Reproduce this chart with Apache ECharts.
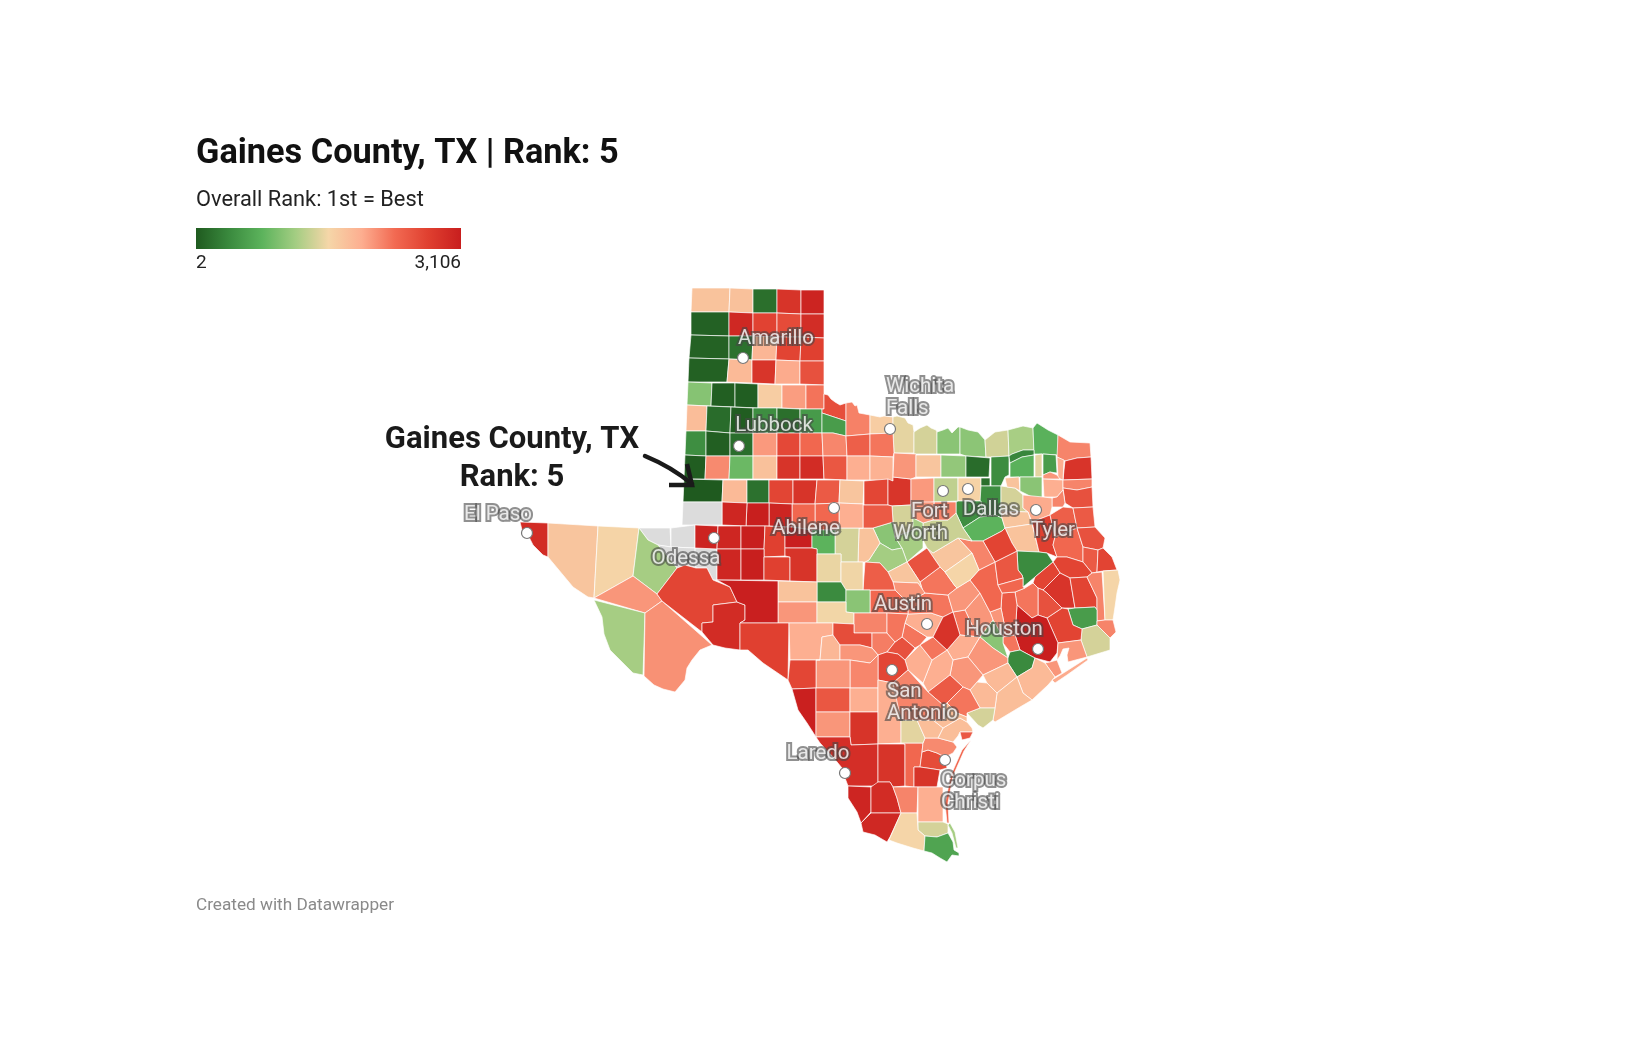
<!DOCTYPE html>
<html>
<head>
<meta charset="utf-8">
<style>html,body{margin:0;padding:0;background:#fff}#map{width:1640px;height:1054px}</style>
<script src="https://cdn.jsdelivr.net/npm/echarts@6/dist/echarts.min.js"></script>
</head>
<body>
<div id="map"></div>
<script>
// rank per county, 1st = best. read off the fill colours, so these are estimates
var countyNames = [
  'Dallam','Sherman','Hansford','Ochiltree','Lipscomb','Hartley','Moore','Hutchinson','Roberts','Hemphill',
  'Oldham','Potter','Carson','Gray','Wheeler','Deaf Smith','Randall','Armstrong','Donley','Collingsworth',
  'Parmer','Castro','Swisher','Briscoe','Hall','Childress','Bailey','Lamb','Hale','Floyd',
  'Motley','Cottle','Hardeman','Foard','Wilbarger','Wichita','Clay','Montague','Cooke','Grayson',
  'Fannin','Lamar','Red River','Bowie','Cass','Cochran','Hockley','Lubbock','Crosby','Dickens',
  'King','Knox','Baylor','Archer','Yoakum','Terry','Lynn','Garza','Kent','Stonewall',
  'Haskell','Throckmorton','Young','Gaines','Dawson','Borden','Scurry','Fisher','Jones','Shackelford',
  'Stephens','Palo Pinto','Jack','Wise','Denton','Parker','Tarrant','Dallas','Collin','Hunt',
  'Delta','Hopkins','Franklin','Titus','Morris','Camp','Rockwall','Kaufman','Ellis','Navarro',
  'Van Zandt','Rains','Wood','Upshur','Marion','Harrison','Gregg','Smith','Henderson','Anderson',
  'Cherokee','Rusk','Panola','Nacogdoches','Shelby','San Augustine','Sabine','Angelina','Houston','Trinity',
  'Polk','Tyler','Jasper','Newton','Hardin','Orange','Jefferson','Liberty','San Jacinto','Walker',
  'Harris','Grimes','Burleson','Waller','Austin','Washington','Lee','Fayette','Colorado','Fort Bend',
  'Chambers','Galveston','Brazoria','Wharton','Matagorda','Jackson','Calhoun','Lavaca','Gonzales','Wilson',
  'DeWitt','Guadalupe','Caldwell','Hays','Travis','Williamson','Bell','Bastrop','Milam','Brazos',
  'Leon','Madison','Freestone','Limestone','Falls','Robertson','McLennan','Hill','Hood','Johnson',
  'Somervell','Erath','Bosque','Coryell','Hamilton','Lampasas','Burnet','San Saba','Comanche','Brown',
  'Eastland','Callahan','Taylor','Nolan','Mitchell','Howard','Martin','Andrews','Loving','Winkler',
  'Ward','Crane','Ector','Midland','Glasscock','Sterling','Coke','Runnels','Upton','Reagan',
  'Irion','Tom Green','Concho','McCulloch','Menard','Mason','Schleicher','Sutton','Kimble','Llano',
  'El Paso','Hudspeth','Culberson','Reeves','Jeff Davis','Presidio','Brewster','Pecos','Terrell','Crockett',
  'Val Verde','Edwards','Real','Kerr','Blanco','Comal','Bandera','Bexar','Medina','Uvalde',
  'Kinney','Maverick','Zavala','Frio','Dimmit','La Salle','Atascosa','Webb','Duval','Live Oak',
  'Nueces','Kleberg','Goliad','Refugio','Aransas','Karnes','Bee','Victoria','Gillespie','Zapata',
  'Jim Hogg','Starr','Brooks','Kenedy','Willacy','Hidalgo','Cameron','Padre Island','South Padre','Kendall','Bolivar'
];
var countyRanks = [
  1740,1760,170,2860,3040,60,2990,2700,2620,2940,
  70,190,1860,2680,2720,55,1830,2840,1960,2560,
  1010,40,35,1640,2040,2280,1800,150,30,430,
  170,540,2590,560,2200,1640,1480,1400,1030,1040,
  1380,1190,760,2180,2850,430,45,160,2060,2640,
  2360,2170,2430,2270,25,2150,860,1760,2860,2950,
  2510,1930,1900,5,1830,190,2670,2860,2480,1720,
  2660,2840,2080,1720,1080,2060,1300,1580,150,420,
  360,760,1470,560,1930,2080,170,430,430,780,
  1400,1740,1030,1930,2180,2560,2180,1960,1720,1740,
  2720,2430,2480,2360,2560,2480,2680,2680,400,2680,
  2850,2680,2180,1560,560,2180,1400,2680,2560,2270,
  3090,2480,2080,2270,1030,2080,2270,1930,2080,390,
  2080,2080,1830,1830,1790,1830,1400,2080,1930,2480,
  2270,1930,2270,2270,1930,2270,2270,2870,2080,2360,
  2510,2360,2680,2180,1720,1560,2550,1350,1400,2200,
  2080,1030,1180,1170,1720,2080,2360,2440,1740,1400,
  2480,1930,2360,2360,3030,3100,3010,null,null,null,
  null,null,3040,3010,3100,2720,3090,780,3010,3100,
  2720,2860,1500,1530,400,1030,1740,2080,1540,2180,
  2950,1720,1570,1180,2080,1180,2110,2670,2950,3090,
  2720,1930,1850,2600,2220,2560,2080,2660,2170,2080,
  2660,3080,2510,1930,2080,2860,1930,2920,2860,2360,
  2610,2860,2150,1790,2500,1470,1790,1790,2180,3030,
  2950,2990,2180,1930,1400,1560,640,2360,1180,2270,1960
];

// white-on-grey place labels. dot = town, label = where the text sits
var cityNames = ['Amarillo','Lubbock','Wichita\nFalls','Abilene','Fort\nWorth','Dallas','Tyler','El Paso','Odessa','Austin','Houston','San\nAntonio','Laredo','Corpus\nChristi'];
var cityDots = [[743,358],[739,446],[890,429],[834,508],[943,491],[968,489],[1036,510],[527,533],[714,538],[927,624],[1038,649],[892,670],[845,773],[945,760]];
var cityLabels = [[776,339],[774,426],[886,398],[806,529],[948,523],[991,510],[1053,531],[498,515],[686,559],[903,605],[1004,630],[887,703],[818,754],[941,792]];
var cityAligns = ['center','center','left','center','right','center','center','center','center','center','center','left','center','left'];

var rankMin = 2;
var rankMax = 3106;
var rampColors = ['#1f5a1f','#3a8a3e','#5cb35c','#a3cd82','#f5d6a8','#fdae90','#f26a52','#e04030','#c81e1e'];

// county outlines in map units
var countyShapes = {
  'Dallam':'692,288 730,288 729,312 691,312','Sherman':'730,288 753,289 753,313 729,312','Hansford':'753,289 777,289 777,313 753,313',
  'Ochiltree':'777,289 801,290 801,314 777,313','Lipscomb':'801,290 824,290 824,314 801,314','Hartley':'691,312 729,312 729,336 691,335',
  'Moore':'729,312 753,313 753,336 729,336','Hutchinson':'753,313 777,313 777,337 753,336','Roberts':'777,313 801,314 801,337 777,337',
  'Hemphill':'801,314 824,314 824,338 801,337','Oldham':'691,335 729,336 729,359 689,358','Potter':'729,336 753,336 752,360 729,359',
  'Carson':'753,336 777,337 776,360 752,360','Gray':'777,337 801,337 800,361 776,360','Wheeler':'801,337 824,338 824,361 800,361',
  'Deaf Smith':'689,358 729,359 727,382 688,382','Randall':'729,359 752,360 752,383 727,382','Armstrong':'752,360 776,360 775,384 752,383',
  'Donley':'776,360 800,361 800,384 775,384','Collingsworth':'800,361 824,361 824,385 800,384','Parmer':'688,382 712,383 711,406 687,405',
  'Castro':'712,383 735,383 735,407 711,406','Swisher':'735,383 758,384 758,408 735,407','Briscoe':'758,384 782,385 782,408 758,408',
  'Hall':'782,385 806,385 806,409 782,408','Childress':'806,385 824,385 824,409 806,409','Bailey':'687,405 707,406 706,431 686,431',
  'Lamb':'707,406 731,407 730,433 706,431','Hale':'731,407 753,408 753,433 730,433','Floyd':'753,408 777,408 777,433 753,433',
  'Motley':'777,408 800,409 800,433 777,433','Cottle':'800,409 822,409 822,433 800,433',
  'Hardeman':'824,394 828,395 831,399 835,402 840,405 846,403 846,421 837,418 828,415 822,413 822,409 824,409',
  'Foard':'822,413 828,415 837,418 846,421 846,436 833,433 822,433','Wilbarger':'846,403 852,402 855,406 857,405 859,413 870,415 870,434 846,436',
  'Wichita':'870,415 880,417 884,416 893,417 893,433 870,434','Clay':'893,417 897,416 905,418 908,423 913,425 914,432 914,453 894,453 893,433',
  'Montague':'914,432 920,428 927,425 931,428 936,430 937,432 937,454 914,454','Cooke':'937,432 943,430 948,428 952,433 958,427 960,427 960,454 937,454',
  'Grayson':'960,427 968,430 978,432 985,440 986,457 966,456 960,454','Fannin':'985,440 995,432 1008,430 1009,456 991,457 986,457',
  'Lamar':'1008,430 1023,426 1033,428 1034,450 1023,450 1012,454 1009,456','Red River':'1033,428 1037,423 1048,430 1058,435 1058,455 1043,454 1034,454',
  'Bowie':'1058,435 1070,442 1090,443 1091,457 1077,458 1065,461 1057,457','Cass':'1065,461 1077,458 1091,457 1092,479 1063,480 1064,470',
  'Cochran':'686,431 706,431 706,456 685,455','Hockley':'706,431 730,433 730,456 706,456','Lubbock':'730,433 753,433 753,456 730,456',
  'Crosby':'753,433 777,433 777,456 753,456','Dickens':'777,433 800,433 800,456 777,456','King':'800,433 822,433 823,456 800,456',
  'Knox':'822,433 833,433 846,436 847,456 823,456','Baylor':'846,436 870,434 870,456 847,456','Archer':'870,434 893,433 894,453 893,457 870,456',
  'Yoakum':'685,455 706,456 705,479 684,479','Terry':'706,456 730,456 729,479 705,479','Lynn':'730,456 753,456 753,479 729,479',
  'Garza':'753,456 777,456 777,479 753,479','Kent':'777,456 800,456 800,479 777,479','Stonewall':'800,456 823,456 824,479 800,479',
  'Haskell':'823,456 847,456 847,480 824,479','Throckmorton':'847,456 870,456 870,480 847,480','Young':'870,456 893,457 893,481 870,480',
  'Gaines':'684,479 723,480 722,502 683,502','Dawson':'723,480 747,480 747,503 722,502','Borden':'747,480 769,480 769,503 747,503',
  'Scurry':'769,480 793,480 793,504 769,503','Fisher':'793,480 817,480 815,504 793,504','Jones':'817,480 840,480 839,503 815,504',
  'Shackelford':'840,480 864,481 863,504 839,503','Stephens':'864,481 888,479 888,505 864,505','Palo Pinto':'888,479 893,481 893,477 911,479 911,505 892,506 888,505',
  'Jack':'894,453 916,454 916,477 911,479 893,477','Wise':'916,455 941,455 941,477 916,477','Denton':'941,455 966,456 966,477 941,477',
  'Parker':'911,479 934,478 934,502 911,505','Tarrant':'934,478 958,478 958,501 934,502','Dallas':'958,478 981,478 981,501 958,501',
  'Collin':'966,456 990,458 989,477 966,477','Hunt':'991,457 1009,456 1009,475 1005,477 1001,486 991,486','Delta':'1009,456 1012,454 1023,450 1034,450 1034,455 1022,457 1010,463',
  'Hopkins':'1010,463 1022,457 1034,455 1034,477 1020,477 1010,477','Franklin':'1035,455 1042,454 1042,477 1035,477','Titus':'1043,454 1056,455 1057,473 1050,472 1043,475',
  'Morris':'1057,457 1064,460 1063,480 1058,478','Camp':'1043,475 1050,472 1057,475 1060,479 1043,479','Rockwall':'981,478 990,478 990,486 981,486',
  'Kaufman':'981,486 1001,486 1001,511 1002,518 995,515 980,517 983,513 980,502 981,501','Ellis':'958,501 981,501 980,502 983,513 980,517 963,528 956,513 956,502',
  'Navarro':'963,528 980,517 995,515 1002,518 1005,528 1002,531 983,541 972,541','Van Zandt':'1001,486 1008,487 1015,488 1023,495 1023,508 1028,512 1001,511',
  'Rains':'1005,478 1019,477 1020,491 1015,488 1007,487','Wood':'1020,477 1042,477 1042,498 1032,497 1020,491','Upshur':'1043,479 1063,480 1063,490 1057,497 1044,497',
  'Marion':'1063,480 1092,479 1092,487 1077,490 1063,488','Harrison':'1063,488 1077,490 1092,487 1093,507 1073,508 1065,503','Gregg':'1057,497 1063,490 1065,503 1063,507 1052,507 1052,498',
  'Smith':'1023,495 1043,497 1052,498 1052,507 1050,515 1032,522 1028,512 1023,508','Henderson':'1001,511 1028,512 1032,524 1005,528 1002,518','Anderson':'1005,528 1032,524 1039,552 1017,551 1012,543',
  'Cherokee':'1032,522 1050,515 1053,527 1055,537 1053,545 1057,557 1047,553 1039,552','Rusk':'1050,515 1063,507 1073,508 1077,528 1055,537 1053,527',
  'Panola':'1073,508 1093,507 1095,527 1077,528','Nacogdoches':'1055,537 1077,528 1083,547 1083,562 1067,557 1057,557 1053,545','Shelby':'1077,528 1095,527 1105,538 1103,548 1098,550 1083,547',
  'San Augustine':'1083,547 1098,550 1097,572 1092,573 1083,562','Sabine':'1098,550 1103,548 1112,557 1117,570 1103,571 1097,572','Angelina':'1057,557 1067,557 1083,562 1092,573 1087,577 1070,578 1060,573 1053,562',
  'Houston':'1017,551 1039,552 1047,553 1053,562 1035,577 1023,587 1023,578 1022,575 1018,570','Trinity':'1035,577 1053,562 1060,573 1050,583 1043,590 1038,588 1033,583',
  'Polk':'1043,590 1050,583 1060,573 1070,578 1075,608 1062,608 1052,598 1047,593','Tyler':'1070,578 1087,577 1097,598 1097,610 1095,607 1075,608','Jasper':'1087,577 1092,573 1102,572 1105,620 1097,621 1097,598',
  'Newton':'1103,571 1118,570 1120,580 1117,593 1115,607 1113,620 1105,620','Hardin':'1068,609 1075,608 1095,607 1097,610 1097,625 1082,629 1073,625','Orange':'1097,621 1105,620 1113,620 1116,632 1110,638 1097,625',
  'Jefferson':'1082,629 1097,625 1110,638 1110,650 1087,657 1081,640','Liberty':'1047,618 1062,608 1068,609 1073,625 1082,629 1081,640 1058,643','San Jacinto':'1038,588 1043,590 1047,593 1052,598 1062,608 1047,618 1038,615',
  'Walker':'1015,592 1025,588 1033,583 1038,588 1038,615 1032,618 1017,605','Harris':'1017,605 1032,618 1038,615 1047,618 1058,643 1057,653 1050,662 1035,658 1020,650 1015,635',
  'Grimes':'1002,593 1015,592 1017,605 1015,635 1003,637 1004,623 1001,608','Burleson':'1001,608 1004,623 1003,637 993,620 990,612','Waller':'1003,637 1015,635 1020,650 1010,652 1003,643',
  'Austin':'980,637 993,620 1003,637 1003,643 1008,658 993,648','Washington':'965,610 980,593 990,612 993,620 980,637 972,625','Lee':'953,612 965,610 972,625 980,637 960,635',
  'Fayette':'947,650 960,635 980,637 968,657 953,660','Colorado':'968,657 980,637 993,648 1008,658 1008,663 983,675','Fort Bend':'1008,658 1010,652 1020,650 1035,658 1032,668 1017,677 1008,663',
  'Chambers':'1058,643 1081,640 1087,657 1068,662 1067,655 1069,648 1063,649 1060,656 1057,660','Galveston':'1045,663 1050,662 1057,660 1062,673 1055,677','Brazoria':'1017,677 1032,668 1035,658 1045,663 1055,677 1048,685 1032,700 1023,693',
  'Wharton':'983,675 1008,663 1017,677 997,693 987,683','Matagorda':'997,693 1017,677 1023,693 1032,700 1020,707 995,722 993,720 995,708','Jackson':'977,682 987,683 997,693 995,708 980,708 970,690',
  'Calhoun':'967,713 980,708 995,708 993,720 983,728 978,725','Lavaca':'953,660 968,657 983,675 977,682 970,690 963,687 950,675','Gonzales':'923,683 932,660 947,650 953,660 950,675 928,692',
  'Wilson':'928,692 950,675 963,687 947,703 943,705','DeWitt':'947,703 963,687 970,690 980,708 967,713 967,717 957,713','Guadalupe':'905,660 920,645 932,660 923,683 908,670',
  'Caldwell':'920,645 933,637 947,650 932,660','Hays':'902,637 905,623 927,637 920,645 915,648','Travis':'905,623 908,614 931,613 943,617 933,637 927,637',
  'Williamson':'925,593 948,595 953,612 943,617 931,613 908,614 908,603','Bell':'920,582 940,567 945,572 955,586 957,588 948,595 925,593 923,592','Bastrop':'943,617 953,612 960,635 947,650 933,637',
  'Milam':'948,595 957,588 970,580 980,593 965,610 953,612','Brazos':'970,580 979,570 995,562 998,585 1002,593 1001,608 990,612 980,593','Leon':'995,562 1017,551 1018,570 1022,575 1023,578 998,585',
  'Madison':'998,585 1023,578 1023,587 1025,588 1015,592 1002,593','Freestone':'983,541 1002,531 1005,528 1012,543 1017,551 995,562','Limestone':'958,538 972,541 983,541 995,562 979,570 972,553',
  'Falls':'927,548 933,553 958,538 972,553 945,572 940,567','Robertson':'945,572 972,553 979,570 970,580 957,588 955,586','McLennan':'907,562 927,548 940,567 920,582',
  'Hill':'923,523 933,520 948,520 956,513 963,528 972,541 958,538 933,553 927,548 923,540','Hood':'892,506 911,505 913,518 913,530 895,537 893,522','Johnson':'934,502 956,502 956,513 948,520 933,520',
  'Somervell':'911,505 913,502 934,502 933,520 923,523 913,518','Erath':'873,528 893,522 895,537 902,548 892,550 880,543','Bosque':'895,537 913,530 913,518 923,523 923,548 907,562 902,548',
  'Coryell':'869,560 880,543 892,550 902,548 907,562 888,572 880,563 865,562','Hamilton':'888,572 907,562 920,582 923,592 918,583 893,582','Lampasas':'893,582 918,583 925,593 908,603 895,590',
  'Burnet':'870,590 895,590 908,603 908,614 887,613 870,613','San Saba':'865,562 880,563 888,572 893,582 895,590 863,590','Comanche':'859,528 873,528 880,543 869,560 865,562 858,562',
  'Brown':'835,530 839,528 859,528 858,562 841,562 841,554 835,554','Eastland':'863,505 888,505 892,506 893,522 873,528 859,528 863,528','Callahan':'839,503 863,504 863,528 839,528',
  'Taylor':'815,504 839,503 839,528 835,530 815,530','Nolan':'792,504 815,504 815,530 812,530 792,527','Mitchell':'769,503 792,504 792,527 785,527 769,526','Howard':'747,503 769,503 769,526 746,526',
  'Martin':'722,502 747,503 746,526 722,525','Andrews':'683,502 722,502 722,525 695,525 682,525','Loving':'639,528 670,528 671,547 658,545 648,540','Winkler':'671,528 695,525 695,548 671,547',
  'Ward':'658,545 671,547 695,548 696,568 685,565 677,568','Crane':'695,548 717,549 717,580 713,580 707,568 696,568','Ector':'695,525 718,526 717,549 695,548','Midland':'718,526 741,526 741,549 717,549',
  'Glasscock':'741,526 765,526 764,549 741,549','Sterling':'765,526 785,527 785,548 785,556 764,557 764,549','Coke':'785,527 792,527 812,530 812,548 785,548','Runnels':'812,530 835,530 835,554 817,554 817,549 812,548',
  'Upton':'717,549 741,549 741,580 717,580','Reagan':'741,549 764,549 764,580 741,580','Irion':'764,557 790,557 790,581 764,580','Tom Green':'785,548 812,548 817,549 817,582 790,581 790,557 785,556',
  'Concho':'817,554 841,554 841,582 817,582','McCulloch':'841,562 863,562 863,590 846,590 841,582','Menard':'817,582 841,582 846,590 846,602 817,602','Mason':'846,590 870,590 870,613 854,613 846,612',
  'Schleicher':'778,581 817,582 817,602 778,602','Sutton':'778,602 817,602 817,623 778,623','Kimble':'817,602 846,602 846,612 854,613 854,624 833,623 817,623','Llano':'854,613 887,613 887,633 854,633',
  'El Paso':'520,522 548,523 548,557 543,555 533,545 528,535 522,530','Hudspeth':'548,523 598,526 594,598 588,597 573,587 563,575 548,557','Culberson':'598,526 639,528 633,576 594,598',
  'Reeves':'639,528 648,540 658,545 677,568 657,594 633,576','Jeff Davis':'633,576 657,594 662,601 645,613 594,598','Presidio':'594,600 645,613 643,675 633,673 623,663 610,650 604,634 602,617',
  'Brewster':'662,601 712,645 700,650 692,660 687,668 685,680 675,692 663,689 654,685 644,676 645,613','Pecos':'657,594 677,568 685,565 696,568 707,568 713,580 730,587 737,602 713,605 713,622 702,623 702,632 662,601',
  'Terrell':'713,605 737,602 745,605 745,620 740,623 740,650 725,648 713,645 702,632 702,623 713,622','Crockett':'717,580 778,581 778,623 740,623 745,620 745,605 737,602 730,587',
  'Val Verde':'740,623 789,623 788,680 763,663 748,650 740,650','Edwards':'789,623 833,623 833,635 822,637 820,660 790,660','Real':'822,637 833,635 840,645 840,660 820,660',
  'Kerr':'833,623 854,624 854,633 872,633 872,648 860,645 840,645 833,635','Blanco':'872,633 887,633 895,642 887,652 878,655 872,648','Comal':'895,642 902,637 915,648 905,660 898,654 887,652',
  'Bandera':'840,645 860,645 872,648 878,655 870,663 850,660 840,660','Bexar':'878,655 887,652 898,654 905,660 908,670 893,683 878,680','Medina':'850,660 870,663 878,655 878,688 850,688',
  'Uvalde':'820,660 840,660 850,660 850,688 816,688 816,660','Kinney':'790,660 820,660 816,660 816,688 792,689 788,680','Maverick':'792,689 816,688 816,737 807,723 798,710',
  'Zavala':'816,688 850,688 850,712 816,712','Frio':'850,688 878,688 878,712 850,712','Dimmit':'816,712 850,712 850,737 816,737','La Salle':'850,712 878,712 878,744 851,745 850,737',
  'Atascosa':'878,680 893,683 901,712 901,743 878,744','Webb':'816,737 850,737 851,745 878,744 878,786 848,786 845,778 842,768 833,757 820,743','Duval':'878,744 905,744 905,786 893,787 890,782 878,782',
  'Live Oak':'901,743 923,743 922,752 920,767 914,767 914,787 905,786 905,744','Nueces':'922,752 928,750 937,753 945,757 947,768 940,770 927,768 920,767','Kleberg':'914,767 920,767 927,768 940,770 937,787 914,787',
  'Goliad':'923,743 925,738 938,738 953,742 957,747 953,753 945,757 937,753 928,750 922,752','Refugio':'938,738 943,728 960,718 967,722 972,728 973,732 960,732 958,736 953,742','Aransas':'960,732 973,732 970,738 962,740',
  'Karnes':'901,720 917,720 925,738 923,743 901,743','Bee':'917,720 933,720 943,728 938,738 925,738','Victoria':'933,720 945,720 945,705 947,703 957,713 967,717 967,722 960,718 943,728',
  'Gillespie':'893,683 908,670 928,692 943,705 945,720 901,720','Zapata':'848,786 871,787 871,812 861,823 857,812 848,798','Jim Hogg':'871,787 878,782 890,782 893,787 897,798 901,813 871,813',
  'Starr':'871,813 901,813 890,837 887,842 875,835 863,832 861,823','Brooks':'893,787 914,787 918,787 917,813 901,813 897,798','Kenedy':'918,787 937,787 943,787 943,822 918,822',
  'Willacy':'918,822 943,822 948,824 948,833 937,837 925,836 918,830','Hidalgo':'901,813 917,813 918,830 925,836 924,851 913,848 897,843 889,840','Cameron':'925,836 937,837 948,833 953,842 954,850 959,853 959,856 952,855 947,862 940,858 932,853 924,851',
  'Padre Island':'971,740 962,750 951,775 945,803 947,823 949,823 948,803 953,776 964,751','South Padre':'950,823 955,832 958,848 956,848 952,833 948,825',
  'Kendall':'887,613 908,614 905,623 902,637 895,642 887,633','Bolivar':'1052,680 1065,672 1087,658 1088,660 1067,675 1055,683'
};

// build the geojson, y is flipped because geo treats it as latitude
var features = [];
var minX = 1e9, maxX = -1e9, minY = 1e9, maxY = -1e9;
for (var name in countyShapes) {
  var ring = countyShapes[name].split(' ').map(function (p) {
    var xy = p.split(',');
    var x = +xy[0], y = +xy[1];
    minX = Math.min(minX, x); maxX = Math.max(maxX, x);
    minY = Math.min(minY, y); maxY = Math.max(maxY, y);
    return [x, -y];
  });
  ring.push(ring[0]);
  features.push({type: 'Feature', properties: {name: name}, geometry: {type: 'Polygon', coordinates: [ring]}});
}
echarts.registerMap('texas', {type: 'FeatureCollection', features: features});

var chart = echarts.init(document.getElementById('map'));

var countyData = countyNames.map(function (n, i) {
  return {name: n, value: countyRanks[i]};
});
var dotData = cityDots.map(function (c) { return [c[0], -c[1]]; });
var labelData = cityNames.map(function (n, i) {
  return {
    name: n,
    value: [cityLabels[i][0], -cityLabels[i][1]],
    label: {align: cityAligns[i]}
  };
});
var rampStops = rampColors.map(function (c, i) {
  return {offset: i / (rampColors.length - 1), color: c};
});

var option = {
  backgroundColor: '#fff',
  animation: false,
  textStyle: {fontFamily: 'Roboto'},
  visualMap: {
    type: 'continuous',
    show: false,
    seriesIndex: 0,
    min: rankMin,
    max: rankMax,
    inRange: {color: rampColors}
  },
  geo: {
    map: 'texas',
    roam: false,
    silent: true,
    aspectScale: 1,
    left: minX,
    top: minY,
    width: maxX - minX,
    height: maxY - minY,
    label: {show: false},
    itemStyle: {areaColor: '#dcdcdc', borderColor: 'rgba(255,255,255,0.85)', borderWidth: 0.8},
    emphasis: {disabled: true}
  },
  series: [
    {
      type: 'map',
      geoIndex: 0,
      data: countyData
    },
    {
      type: 'scatter',
      coordinateSystem: 'geo',
      silent: true,
      symbolSize: 11,
      itemStyle: {color: '#fff', opacity: 1, borderColor: '#777', borderWidth: 1.2},
      data: dotData,
      z: 5
    },
    {
      type: 'scatter',
      coordinateSystem: 'geo',
      silent: true,
      symbolSize: 0,
      data: labelData,
      z: 6,
      label: {
        show: true,
        position: [0, 0],
        verticalAlign: 'middle',
        formatter: '{b}',
        fontFamily: 'Roboto',
        fontSize: 20.5,
        lineHeight: 22,
        color: '#fff',
        textBorderColor: 'rgba(70,70,70,0.75)',
        textBorderWidth: 4
      }
    }
  ],
  graphic: [
    {type: 'text', left: 196, top: 137, style: {text: 'Gaines County, TX | Rank: 5', font: '700 34.3px Roboto', fill: '#111'}},
    {type: 'text', left: 196, top: 190, style: {text: 'Overall Rank: 1st = Best', font: '400 21.8px Roboto', fill: '#222'}},
    {
      type: 'rect',
      shape: {x: 196, y: 228, width: 265, height: 21},
      style: {fill: new echarts.graphic.LinearGradient(0, 0, 1, 0, rampStops)}
    },
    {type: 'text', left: 196, top: 254, style: {text: '2', font: '400 19px Roboto', fill: '#222'}},
    {type: 'text', right: 1179, top: 254, style: {text: '3,106', font: '400 19px Roboto', fill: '#222', textAlign: 'right'}},
    {type: 'text', left: 196, top: 897, style: {text: 'Created with Datawrapper', font: '400 17.2px Roboto', fill: '#8a8a8a'}},
    {type: 'text', x: 512, y: 425, z: 10, style: {text: 'Gaines County, TX', font: '700 31px Roboto', fill: '#1a1a1a', textAlign: 'center'}},
    {type: 'text', x: 512, y: 463, z: 10, style: {text: 'Rank: 5', font: '700 31px Roboto', fill: '#1a1a1a', textAlign: 'center'}},
    {type: 'bezierCurve', z: 10, shape: {x1: 645, y1: 456, x2: 692, y2: 484, cpx1: 662, cpy1: 463, cpx2: 680, cpy2: 474}, style: {stroke: '#1a1a1a', lineWidth: 4.5, fill: null, lineCap: 'round'}},
    {type: 'polyline', z: 10, shape: {points: [[687, 464], [692, 485], [669, 485]]}, style: {stroke: '#1a1a1a', lineWidth: 4.5, fill: null, lineJoin: 'miter'}}
  ]
};
chart.setOption(option);
</script>
</body>
</html>
